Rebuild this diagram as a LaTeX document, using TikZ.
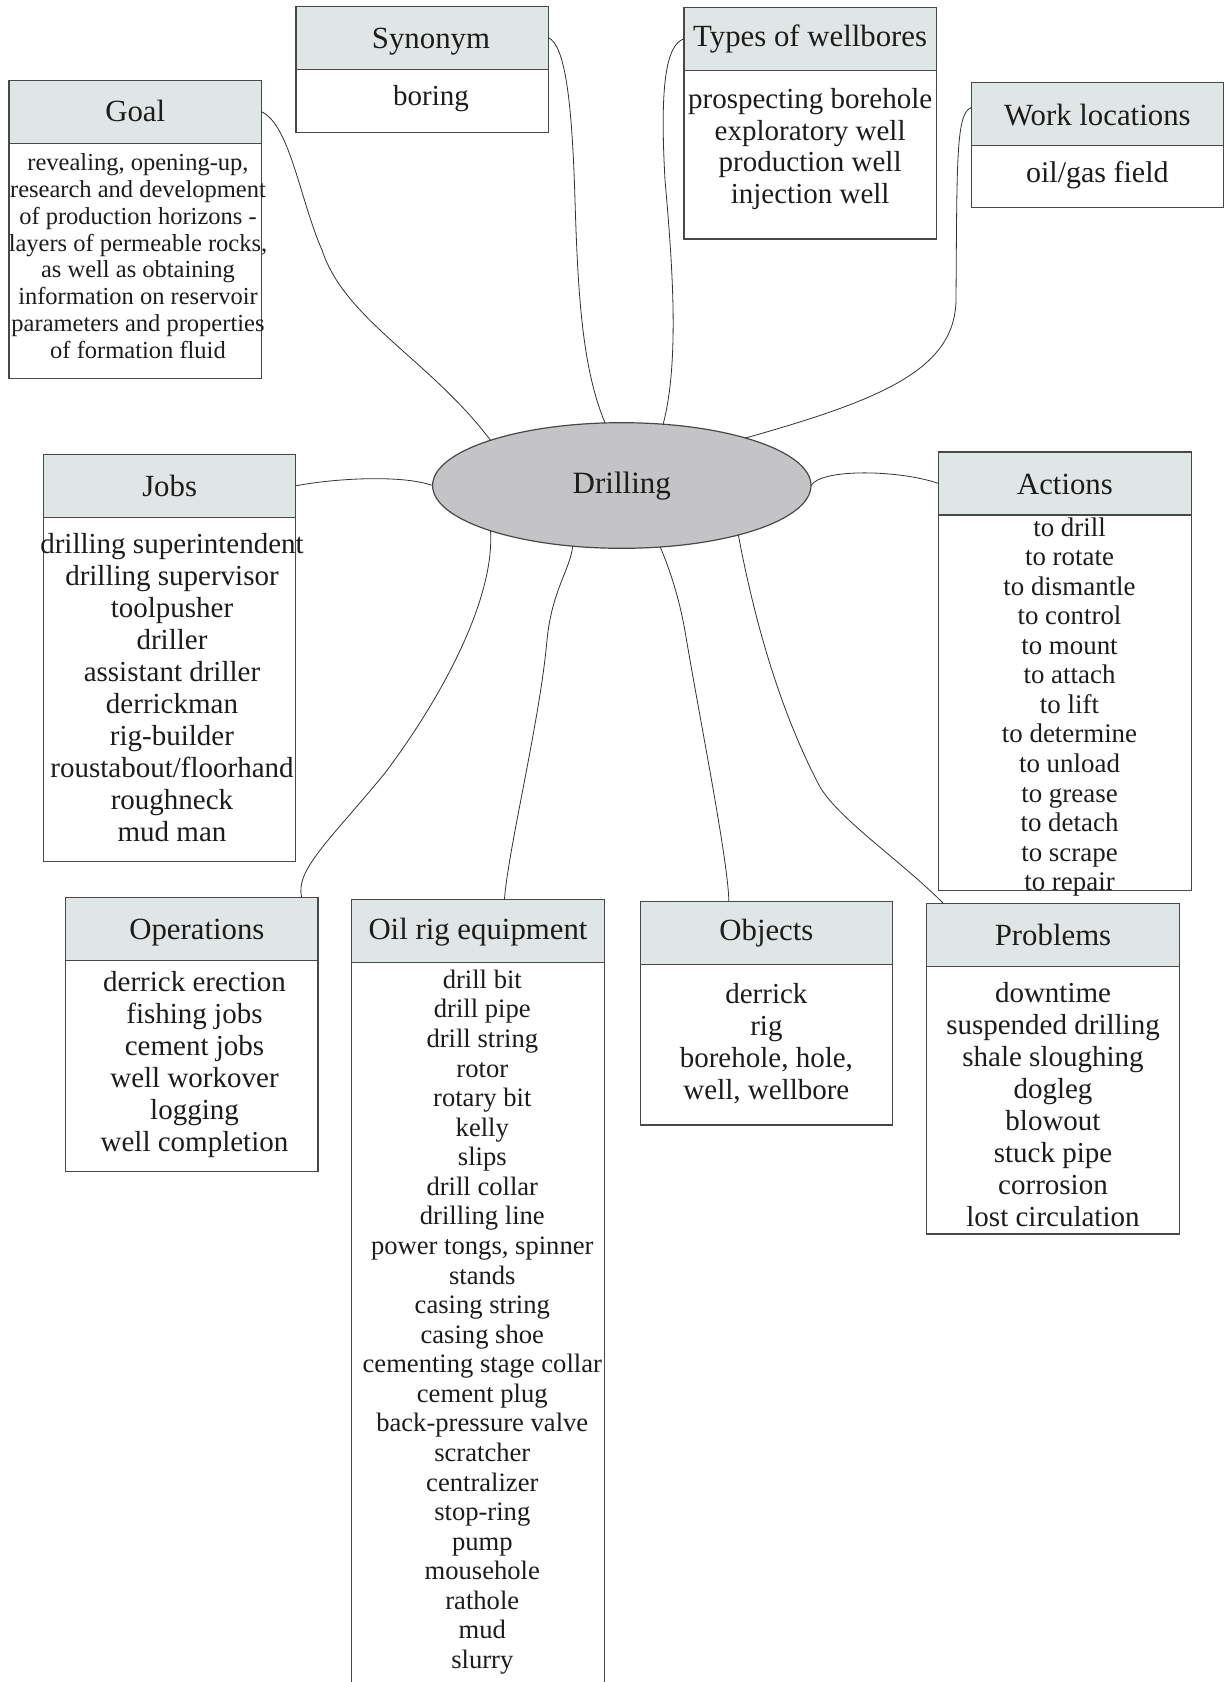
\documentclass[tikz,border=0pt]{standalone}
\usepackage{fontspec}
\setmainfont{Liberation Serif}
\usetikzlibrary{shapes.geometric}

\definecolor{hdrfill}{RGB}{224,230,229}
\definecolor{hubfill}{RGB}{196,196,198}
\definecolor{boxline}{RGB}{72,72,72}
\definecolor{wire}{RGB}{50,50,50}
\definecolor{ink}{RGB}{28,28,28}

% One base-anchored node per text line: name, x, first baseline, line step, font size, lines
\newcommand\boxlines[6]{%
  \foreach \txt [count=\k] in {#6}{%
    \node[linetext, font=\fontsize{#5pt}{#5pt}\selectfont] (#1-\k) at (#2, {#3+(\k-1)*#4}) {\txt};
  }%
}

\begin{document}
\begin{tikzpicture}[x=1pt, y=-1pt,
  hdr/.style={rectangle, draw=boxline, fill=hdrfill, line width=1.2pt,
    minimum width=252.4pt, minimum height=63pt, inner sep=0pt, outer sep=0pt},
  bodybox/.style={rectangle, draw=boxline, fill=white, line width=1.2pt,
    minimum width=252.4pt, inner sep=0pt, outer sep=0pt, anchor=north},
  hdrtext/.style={anchor=base, inner sep=0pt, text=ink,
    font=\fontsize{30.8pt}{31pt}\selectfont},
  linetext/.style={anchor=base, inner sep=0pt, text=ink},
  hub/.style={ellipse, draw=boxline, fill=hubfill, line width=1.2pt,
    minimum width=378.4pt, minimum height=125.6pt, inner sep=0pt, outer sep=0pt,
    text=ink, font=\fontsize{31pt}{31pt}\selectfont, text height=15.6pt, text depth=0pt},
  conn/.style={draw=wire, line width=0.8pt}
]
\clip (0,0) rectangle (1229,1682);
\fill[white] (0,0) rectangle (1229,1682);

% central concept
\node[hub] (drill) at (621.8,485.5) {Drilling};

% Goal
\node[hdr] (goal-h) at (135.25,111.65) {};
\node[bodybox, minimum height=235.7pt] (goal-b) at (goal-h.south) {};
\node[hdrtext] (goal-t) at (135.25,121.7) {Goal};
\boxlines{goal}{138}{170.7}{26.8}{24.5}{{revealing, opening-up,}, research and development,
  of production horizons -, {layers of permeable rocks,}, as well as obtaining,
  information on reservoir, parameters and properties, of formation fluid}

% Synonym
\node[hdr] (syn-h) at (422.1,37.65) {};
\node[bodybox, minimum height=63pt] (syn-b) at (syn-h.south) {};
\node[hdrtext] (syn-t) at (431,48.3) {Synonym};
\boxlines{syn}{431}{105}{32}{29}{boring}

% Types of wellbores
\node[hdr] (types-h) at (810.15,38.8) {};
\node[bodybox, minimum height=168.7pt] (types-b) at (types-h.south) {};
\node[hdrtext] (types-t) at (810.15,46.7) {Types of wellbores};
\boxlines{types}{810.15}{108.3}{31.7}{29}{prospecting borehole, exploratory well,
  production well, injection well}

% Work locations
\node[hdr] (work-h) at (1097.35,114.3) {};
\node[bodybox, minimum height=61.9pt] (work-b) at (work-h.south) {};
\node[hdrtext] (work-t) at (1097.35,125) {Work locations};
\boxlines{work}{1097.35}{182.7}{32}{30}{oil/gas field}

% Jobs
\node[hdr] (jobs-h) at (169.65,485.85) {};
\node[bodybox, minimum height=344.3pt] (jobs-b) at (jobs-h.south) {};
\node[hdrtext] (jobs-t) at (169.65,496.7) {Jobs};
\boxlines{jobs}{172}{553.3}{32}{29}{drilling superintendent, drilling supervisor,
  toolpusher, driller, assistant driller, derrickman, rig-builder,
  roustabout/floorhand, roughneck, mud man}

% Actions
\node[hdr] (act-h) at (1064.95,483.5) {};
\node[bodybox, minimum height=375.7pt] (act-b) at (act-h.south) {};
\node[hdrtext] (act-t) at (1064.95,494) {Actions};
\boxlines{act}{1069.5}{536}{29.56}{26.9}{to drill, to rotate, to dismantle, to control,
  to mount, to attach, to lift, to determine, to unload, to grease, to detach,
  to scrape, to repair}

% Operations
\node[hdr] (ops-h) at (191.75,928.65) {};
\node[bodybox, minimum height=211.5pt] (ops-b) at (ops-h.south) {};
\node[hdrtext] (ops-t) at (196.9,939) {Operations};
\boxlines{ops}{194.5}{991.7}{32}{29}{derrick erection, fishing jobs, cement jobs,
  well workover, logging, well completion}

% Oil rig equipment
\node[hdr] (oil-h) at (478,931.15) {};
\node[bodybox, minimum height=800pt] (oil-b) at (oil-h.south) {};
\node[hdrtext] (oil-t) at (478,939) {Oil rig equipment};
\boxlines{oil}{482.3}{988.3}{29.57}{26.6}{drill bit, drill pipe, drill string, rotor,
  rotary bit, kelly, slips, drill collar, drilling line, {power tongs, spinner},
  stands, casing string, casing shoe, cementing stage collar, cement plug,
  back-pressure valve, scratcher, centralizer, stop-ring, pump, mousehole,
  rathole, mud, slurry}

% Objects
\node[hdr] (obj-h) at (766.4,932.65) {};
\node[bodybox, minimum height=160.85pt] (obj-b) at (obj-h.south) {};
\node[hdrtext] (obj-t) at (766.4,940) {Objects};
\boxlines{obj}{766.4}{1003.3}{32.2}{29}{derrick, rig, {borehole, hole,}, {well, wellbore}}

% Problems
\node[hdr] (prob-h) at (1053,934.65) {};
\node[bodybox, minimum height=267.85pt] (prob-b) at (prob-h.south) {};
\node[hdrtext] (prob-t) at (1053,945) {Problems};
\boxlines{prob}{1053}{1002.7}{32}{29}{downtime, suspended drilling, shale sloughing,
  dogleg, blowout, stuck pipe, corrosion, lost circulation}

% connectors from the categories to the central concept
\draw[conn] (goal-h.east) .. controls (290,125) and (300,200) .. (322,250)
  .. controls (345,320) and (430,360) .. (drill.161);
\draw[conn] (syn-h.east) .. controls (565,45) and (572,100) .. (575,200)
  .. controls (578,300) and (583,370) .. (drill.105.8);
\draw[conn] (types-h.west) .. controls (665,45) and (660,90) .. (665,180)
  .. controls (672,260) and (680,360) .. (drill.56.8);
\draw[conn] (work-h.177.3) .. controls (956,113) and (957,160) .. (956,300)
  .. controls (955,370) and (880,400) .. (drill.21.2);
\draw[conn] (jobs-h.east) .. controls (330,479) and (400,474) .. (drill.west);
\draw[conn] (drill.east) .. controls (822,468) and (900,470) .. (act-h.west);
\draw[conn] (ops-h.16.9) .. controls (295,870) and (330,840) .. (385,773)
  .. controls (440,700) and (495,600) .. (drill.199.3);
\draw[conn] (oil-h.50.2) .. controls (508,850) and (540,720) .. (547,640)
  .. controls (552,590) and (570,570) .. (drill.231.8);
\draw[conn] (obj-h.140.1) .. controls (728,860) and (700,720) .. (686,637)
  .. controls (680,600) and (670,570) .. (drill.302.5);
\draw[conn] (prob-h.164.5) .. controls (900,860) and (840,820) .. (820,787)
  .. controls (790,730) and (760,650) .. (drill.337);
\end{tikzpicture}
\end{document}
